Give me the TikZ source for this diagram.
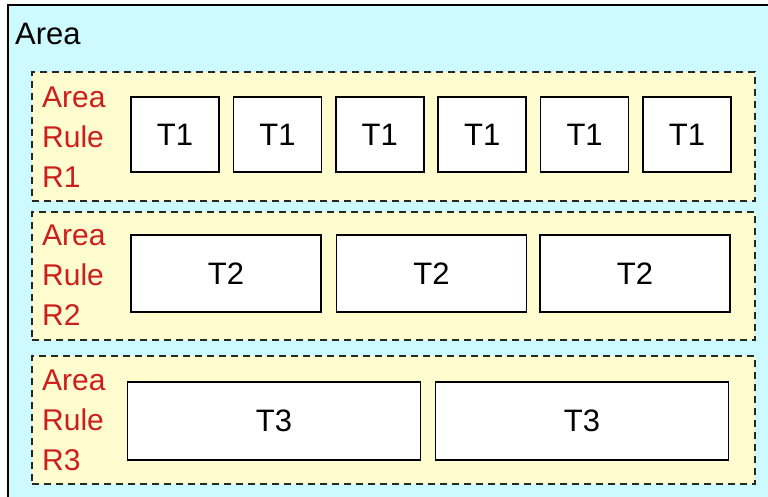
\documentclass[tikz,border=0pt]{standalone}
\usepackage{fontspec}
\setmainfont{Liberation Sans}
\definecolor{areabg}{RGB}{204,250,255}
\definecolor{rulebg}{RGB}{255,252,208}
\definecolor{rulered}{RGB}{205,30,30}
\begin{document}
\begin{tikzpicture}[x=1pt,y=-1pt,
  tbox/.style={draw=black,line width=1.6pt,fill=white,inner sep=0pt,outer sep=0pt,font=\fontsize{31}{36}\selectfont},
  rulebox/.style={draw=black!85,dash pattern=on 7pt off 5pt,line width=1.8pt,fill=rulebg,inner sep=0pt,outer sep=0pt,minimum width=723pt},
  rulelabel/.style={text=rulered,align=left,anchor=west,inner sep=0pt,font=\fontsize{30}{40}\selectfont}]
\useasboundingbox (0,0) rectangle (768,497);
\clip (0,0) rectangle (768,497);
\node[draw=black,line width=2pt,fill=areabg,anchor=north west,inner sep=0pt,outer sep=0pt,minimum width=790pt,minimum height=520pt] (area) at (8,5) {};
\node[anchor=base west,inner sep=0pt,font=\fontsize{31}{36}\selectfont] (title) at (15,45) {Area};
% rule rows
\node[rulebox,minimum height=129pt] (r1) at (393.5,136.5) {};
\node[rulebox,minimum height=128pt] (r2) at (393.5,276) {};
\node[rulebox,minimum height=128pt] (r3) at (393.5,420) {};
\node[rulelabel] (l1) at (42,137) {Area\\Rule\\R1};
\node[rulelabel] (l2) at (42,275.5) {Area\\Rule\\R2};
\node[rulelabel] (l3) at (42,420) {Area\\Rule\\R3};
% T1
\foreach \i in {0,...,5}{
  \node[tbox,minimum width=88pt,minimum height=75pt] (t1\i) at ({175+102.4*\i},134.5) {T1};
}
% T2
\node[tbox,minimum width=190pt,minimum height=77pt] (t2a) at (226,273.5) {T2};
\node[tbox,minimum width=190pt,minimum height=77pt] (t2b) at (431.5,273.5) {T2};
\node[tbox,minimum width=190pt,minimum height=77pt] (t2c) at (635,273.5) {T2};
% T3
\node[tbox,minimum width=293pt,minimum height=78pt] (t3a) at (274,421) {T3};
\node[tbox,minimum width=293pt,minimum height=78pt] (t3b) at (582,421) {T3};
\end{tikzpicture}
\end{document}
